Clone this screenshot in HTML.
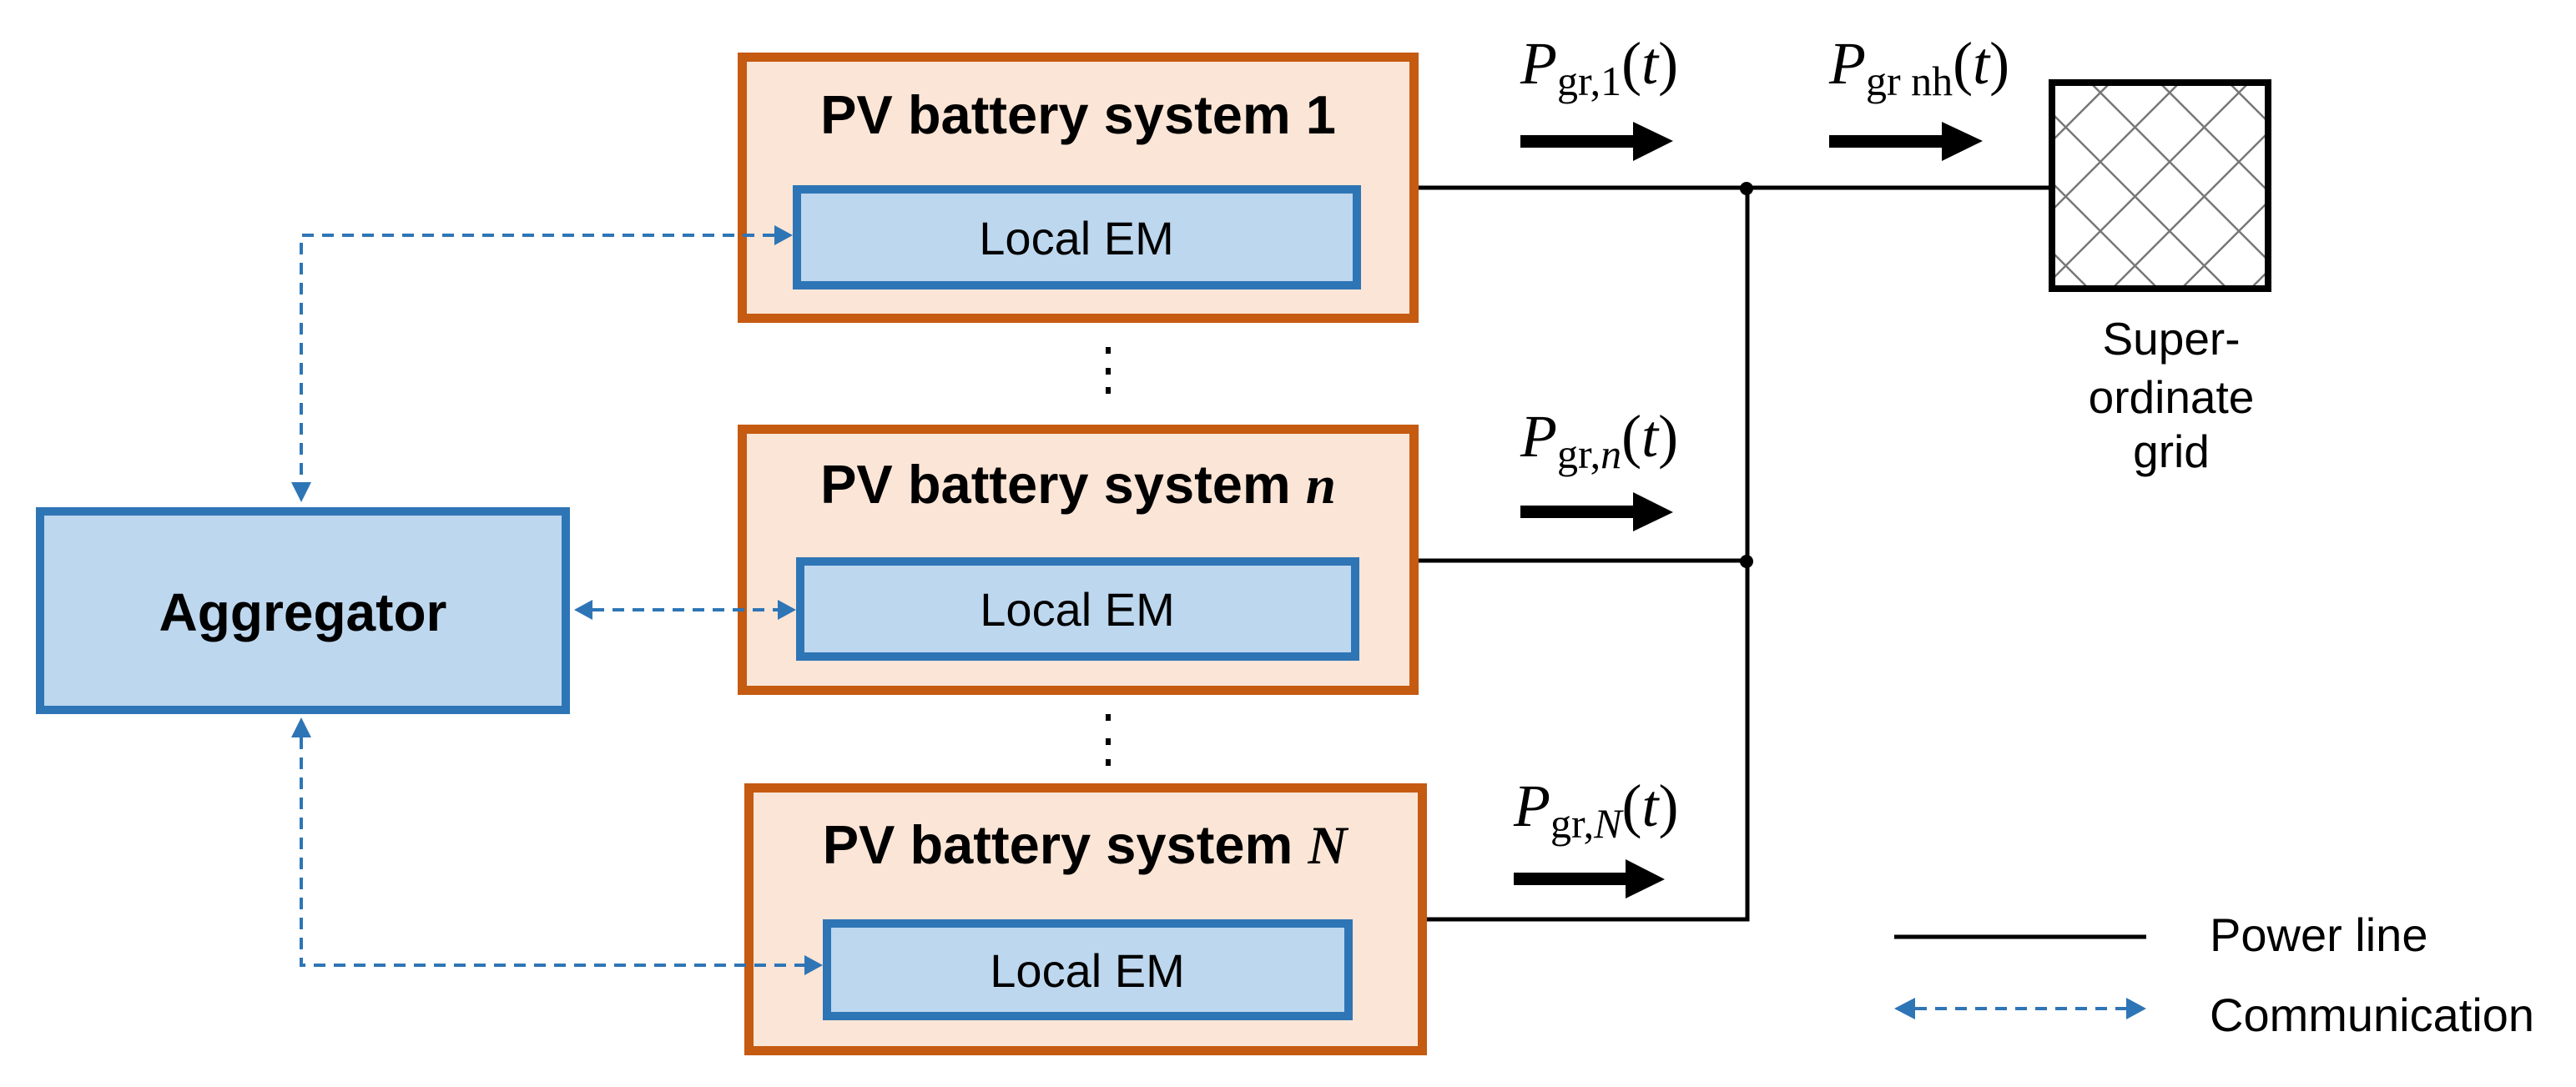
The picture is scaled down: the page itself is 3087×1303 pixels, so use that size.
<!DOCTYPE html>
<html><head><meta charset="utf-8"><style>
html,body{margin:0;padding:0;background:#fff;}
svg{display:block;}
</style></head><body>
<svg width="3087" height="1303" viewBox="0 0 3087 1303" xmlns="http://www.w3.org/2000/svg">
<defs>
<clipPath id="gc"><rect x="2459" y="99" width="259" height="247"/></clipPath>
</defs>
<!-- PV boxes -->
<g fill="#FBE5D6" stroke="#C55A11" stroke-width="11">
<rect x="889.5" y="68.5" width="805" height="313"/>
<rect x="889.5" y="514.5" width="805" height="313"/>
<rect x="897.5" y="944.5" width="807" height="315"/>
</g>
<g fill="#BDD7EE" stroke="#2E75B6" stroke-width="10">
<rect x="955" y="227" width="671" height="115"/>
<rect x="959" y="673" width="665" height="114"/>
<rect x="991" y="1107" width="625" height="111"/>
<rect x="48" y="613" width="630" height="238"/>
</g>
<g font-family="Liberation Sans, sans-serif" font-weight="bold" font-size="65" text-anchor="middle" fill="#000">
<text x="1292" y="160">PV battery system 1</text>
<text x="1292" y="603">PV battery system <tspan font-family="Liberation Serif, serif" font-style="italic">n</tspan></text>
<text x="1300" y="1035">PV battery system <tspan font-family="Liberation Serif, serif" font-style="italic">N</tspan></text>
<text x="363" y="756" font-size="64">Aggregator</text>
</g>
<g font-family="Liberation Sans, sans-serif" font-size="56" text-anchor="middle" fill="#000">
<text x="1290" y="305">Local EM</text>
<text x="1291" y="750">Local EM</text>
<text x="1303" y="1183">Local EM</text>
<text x="2602" y="425" font-size="55">Super-</text>
<text x="2602" y="495" font-size="55">ordinate</text>
<text x="2602" y="560" font-size="55">grid</text>
</g>
<g font-family="Liberation Sans, sans-serif" font-size="56" fill="#000">
<text x="2648" y="1140">Power line</text>
<text x="2648" y="1236">Communication</text>
</g>
<!-- dots -->
<g fill="#000">
<rect x="1325" y="416" width="6" height="8"/><rect x="1325" y="441" width="6" height="8"/><rect x="1325" y="464" width="6" height="8"/>
<rect x="1325" y="856" width="6" height="8"/><rect x="1325" y="885" width="6" height="8"/><rect x="1325" y="910" width="6" height="8"/>
</g>
<!-- power lines -->
<g stroke="#000" stroke-width="5" fill="none">
<line x1="1700" y1="225" x2="2455" y2="225"/>
<line x1="1700" y1="672" x2="2094" y2="672"/>
<polyline points="1710,1102 2094,1102 2094,225"/>
<line x1="2270" y1="1123" x2="2572" y2="1123"/>
</g>
<circle cx="2093" cy="226" r="8" fill="#000"/>
<circle cx="2093" cy="673" r="8" fill="#000"/>
<!-- grid -->
<g clip-path="url(#gc)" stroke="#777" stroke-width="2.5">
<line x1="2300" y1="60" x2="2700" y2="460"/><line x1="2383" y1="60" x2="2783" y2="460"/><line x1="2466" y1="60" x2="2866" y2="460"/><line x1="2549" y1="60" x2="2949" y2="460"/><line x1="2632" y1="60" x2="3032" y2="460"/><line x1="2217" y1="60" x2="2617" y2="460"/><line x1="2134" y1="60" x2="2534" y2="460"/>
<line x1="2900" y1="60" x2="2500" y2="460"/><line x1="2817" y1="60" x2="2417" y2="460"/><line x1="2734" y1="60" x2="2334" y2="460"/><line x1="2651" y1="60" x2="2251" y2="460"/><line x1="2568" y1="60" x2="2168" y2="460"/><line x1="2983" y1="60" x2="2583" y2="460"/><line x1="3066" y1="60" x2="2666" y2="460"/>
</g>
<rect x="2459" y="99" width="259" height="247" fill="none" stroke="#000" stroke-width="8"/>
<!-- block arrows -->
<g fill="#000">
<polygon points="1822,162 1957,162 1957,146 2005,169 1957,193 1957,177 1822,177"/>
<polygon points="2192,162 2327,162 2327,146 2376,169 2327,193 2327,177 2192,177"/>
<polygon points="1822,606 1957,606 1957,590 2005,614 1957,637 1957,621 1822,621"/>
<polygon points="1814,1046 1948,1046 1948,1030 1995,1054 1948,1077 1948,1061 1814,1061"/>
</g>
<!-- math labels -->
<g font-family="Liberation Serif, serif" fill="#000">
<text x="1822" y="100" font-size="72"><tspan font-style="italic">P</tspan><tspan font-size="50" dy="14">gr,1</tspan><tspan dy="-14">(</tspan><tspan font-style="italic">t</tspan>)</text>
<text x="2192" y="100" font-size="72"><tspan font-style="italic">P</tspan><tspan font-size="50" dy="14">gr nh</tspan><tspan dy="-14">(</tspan><tspan font-style="italic">t</tspan>)</text>
<text x="1822" y="547" font-size="72"><tspan font-style="italic">P</tspan><tspan font-size="50" dy="14">gr,<tspan font-style="italic">n</tspan></tspan><tspan dy="-14">(</tspan><tspan font-style="italic">t</tspan>)</text>
<text x="1814" y="990" font-size="72"><tspan font-style="italic">P</tspan><tspan font-size="50" dy="14">gr,<tspan font-style="italic">N</tspan></tspan><tspan dy="-14">(</tspan><tspan font-style="italic">t</tspan>)</text>
</g>
<!-- communication -->
<g stroke="#2E75B6" stroke-width="4" fill="none" stroke-dasharray="14,10">
<polyline points="928,282 361,282 361,578"/>
<polyline points="361,884 361,1157 965,1157"/>
<line x1="710" y1="731" x2="934" y2="731"/>
<line x1="2295" y1="1209" x2="2550" y2="1209"/>
</g>
<g fill="#2E75B6">
<polygon points="950,282 928,270 928,294"/>
<polygon points="361,602 349,578 373,578"/>
<polygon points="361,860 349,884 373,884"/>
<polygon points="986,1157 964,1145 964,1169"/>
<polygon points="688,731 710,719 710,743"/>
<polygon points="954,731 932,719 932,743"/>
<polygon points="2270,1209 2295,1196 2295,1222"/>
<polygon points="2572,1209 2548,1196 2548,1222"/>
</g>
</svg>
</body></html>
